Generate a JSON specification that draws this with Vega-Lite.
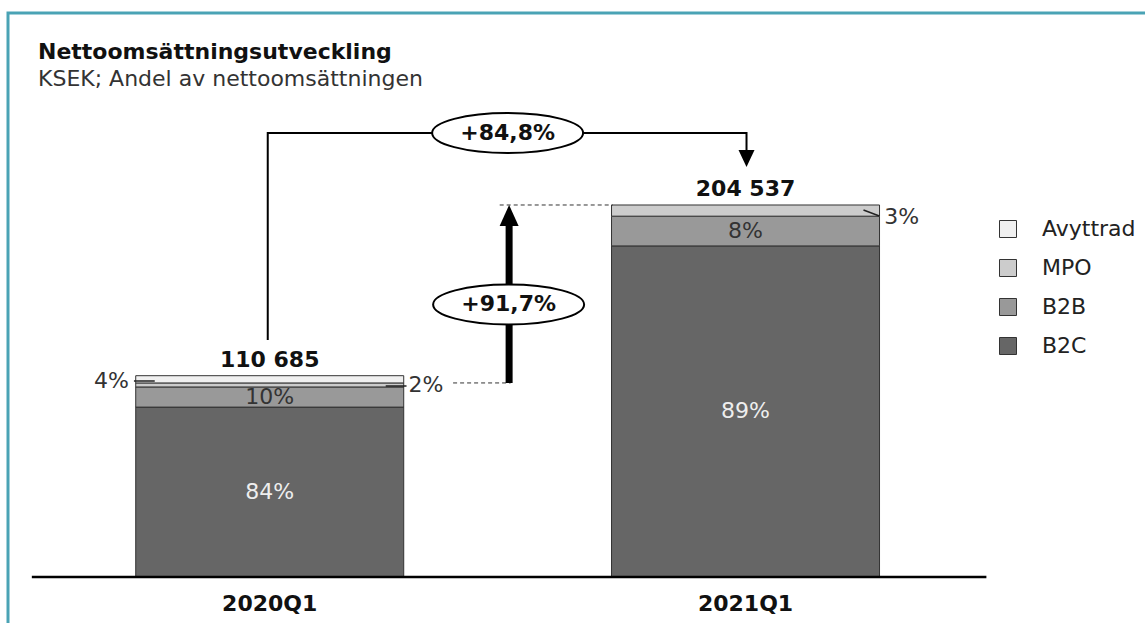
{
  "$schema": "https://vega.github.io/schema/vega-lite/v6.json",
  "width": 1141,
  "height": 614,
  "autosize": {"type": "none"},
  "padding": {"left": 8, "top": 13, "right": -4, "bottom": -4},
  "background": "white",
  "config": {
    "font": "DejaVu Sans",
    "view": {"stroke": "#4aa3b5", "strokeWidth": 3},
    "locale": {"number": {"decimal": ",", "thousands": " ", "grouping": [3], "currency": ["", " kr"]}}
  },
  "title": {
    "text": "Nettoomsättningsutveckling",
    "subtitle": "KSEK; Andel av nettoomsättningen",
    "anchor": "start",
    "frame": "group",
    "offset": 0,
    "dx": 30,
    "dy": 78,
    "fontSize": 22,
    "fontWeight": "bold",
    "color": "#111111",
    "subtitleFontSize": 22,
    "subtitleColor": "#333333",
    "subtitlePadding": 5
  },
  "datasets": {
    "bars": [
      {"period": "2020Q1", "idx": 1, "segment": "B2C", "stackOrder": 1, "value": 93417, "pct": "84%"},
      {"period": "2020Q1", "idx": 1, "segment": "B2B", "stackOrder": 2, "value": 11069, "pct": "10%"},
      {"period": "2020Q1", "idx": 1, "segment": "MPO", "stackOrder": 3, "value": 2214, "pct": "2%"},
      {"period": "2020Q1", "idx": 1, "segment": "Avyttrad", "stackOrder": 4, "value": 3985, "pct": "4%"},
      {"period": "2021Q1", "idx": 2, "segment": "B2C", "stackOrder": 1, "value": 182038, "pct": "89%"},
      {"period": "2021Q1", "idx": 2, "segment": "B2B", "stackOrder": 2, "value": 16363, "pct": "8%"},
      {"period": "2021Q1", "idx": 2, "segment": "MPO", "stackOrder": 3, "value": 6136, "pct": "3%"}
    ],
    "leaders": [
      {"x": 0.714583, "x2": 0.758333, "y": 107767, "y2": 107767},
      {"x": 1.24375, "x2": 1.2875, "y": 105018, "y2": 105018},
      {"x": 2.247917, "x2": 2.28125, "y": 201788, "y2": 198489}
    ],
    "dashes": [
      {"x": 1.48333, "x2": 1.72083, "y": 204537, "y2": 204537},
      {"x": 1.385417, "x2": 1.50625, "y": 106700, "y2": 106700}
    ],
    "connector": [
      {"step": 1, "x": 0.995833, "y": 130310},
      {"step": 2, "x": 0.995833, "y": 244125},
      {"step": 3, "x": 2.002083, "y": 244125},
      {"step": 4, "x": 2.002083, "y": 233678}
    ],
    "badges": [
      {"label": "+84,8%", "x": 1.5, "y": 244125},
      {"label": "+91,7%", "x": 1.502083, "y": 149829}
    ],
    "callouts": [
      {"label": "4%", "side": "left", "x": 0.704167, "y": 107767},
      {"label": "2%", "side": "right", "x": 1.291667, "y": 105567},
      {"label": "3%", "side": "right", "x": 2.291667, "y": 197939}
    ]
  },
  "layer": [
    {
      "data": {"name": "bars"},
      "mark": {"type": "bar", "orient": "vertical", "width": 268, "stroke": "#333333", "strokeWidth": 1},
      "encoding": {
        "x": {"field": "idx", "type": "quantitative", "scale": {"domain": [0.460417, 2.8375], "nice": false, "zero": false}, "axis": null},
        "y": {"field": "value", "type": "quantitative", "stack": "zero", "scale": {"domain": [-27492, 310104], "nice": false, "zero": false}, "axis": null},
        "color": {
          "field": "segment",
          "type": "nominal",
          "scale": {"domain": ["Avyttrad", "MPO", "B2B", "B2C"], "range": ["#f0f0f0", "#cccccc", "#999999", "#666666"]},
          "legend": {
            "orient": "none",
            "direction": "vertical",
            "legendX": 989,
            "legendY": 205,
            "title": null,
            "padding": 0,
            "symbolType": "square",
            "symbolSize": 289,
            "symbolStrokeColor": "#333333",
            "symbolStrokeWidth": 1,
            "symbolOpacity": 1,
            "labelFontSize": 22,
            "labelColor": "#222222",
            "labelOffset": 23,
            "rowPadding": 17
          }
        },
        "order": {"field": "stackOrder", "type": "quantitative"}
      }
    },
    {
      "data": {"name": "bars"},
      "transform": [{"filter": {"field": "segment", "oneOf": ["B2C", "B2B"]}}],
      "mark": {"type": "text", "fontSize": 22, "baseline": "middle", "align": "center"},
      "encoding": {
        "x": {"field": "idx", "type": "quantitative", "scale": {"domain": [0.460417, 2.8375], "nice": false, "zero": false}, "axis": null},
        "y": {"field": "value", "type": "quantitative", "stack": "zero", "bandPosition": 0.5, "scale": {"domain": [-27492, 310104], "nice": false, "zero": false}, "axis": null},
        "detail": {"field": "segment"},
        "order": {"field": "stackOrder", "type": "quantitative"},
        "text": {"field": "pct"},
        "color": {"condition": {"test": "datum.segment === 'B2C'", "value": "#eeeeee"}, "value": "#333333"}
      }
    },
    {
      "data": {"name": "bars"},
      "transform": [{"aggregate": [{"op": "sum", "field": "value", "as": "total"}], "groupby": ["period", "idx"]}],
      "layer": [
        {
          "mark": {"type": "text", "fontSize": 22, "fontWeight": "bold", "baseline": "alphabetic", "align": "center", "dy": -9, "color": "#111111"},
          "encoding": {
            "x": {"field": "idx", "type": "quantitative", "scale": {"domain": [0.460417, 2.8375], "nice": false, "zero": false}, "axis": null},
            "y": {"field": "total", "type": "quantitative", "scale": {"domain": [-27492, 310104], "nice": false, "zero": false}, "axis": null},
            "text": {"field": "total", "type": "quantitative", "format": ",d"}
          }
        },
        {
          "mark": {"type": "text", "fontSize": 22, "fontWeight": "bold", "baseline": "middle", "align": "center", "color": "#111111"},
          "encoding": {
            "x": {"field": "idx", "type": "quantitative", "scale": {"domain": [0.460417, 2.8375], "nice": false, "zero": false}, "axis": null},
            "y": {"datum": -14845, "type": "quantitative", "scale": {"domain": [-27492, 310104], "nice": false, "zero": false}, "axis": null},
            "text": {"field": "period"}
          }
        }
      ]
    },
    {
      "data": {"values": [{}]},
      "mark": {"type": "rule", "stroke": "#000000", "strokeWidth": 2.5},
      "encoding": {
        "x": {"datum": 0.5, "type": "quantitative", "scale": {"domain": [0.460417, 2.8375], "nice": false, "zero": false}, "axis": null},
        "x2": {"datum": 2.50625},
        "y": {"datum": 0, "type": "quantitative", "scale": {"domain": [-27492, 310104], "nice": false, "zero": false}, "axis": null}
      }
    },
    {
      "data": {"name": "leaders"},
      "mark": {"type": "rule", "stroke": "#222222", "strokeWidth": 1.5},
      "encoding": {
        "x": {"field": "x", "type": "quantitative", "scale": {"domain": [0.460417, 2.8375], "nice": false, "zero": false}, "axis": null},
        "x2": {"field": "x2"},
        "y": {"field": "y", "type": "quantitative", "scale": {"domain": [-27492, 310104], "nice": false, "zero": false}, "axis": null},
        "y2": {"field": "y2"}
      }
    },
    {
      "data": {"name": "dashes"},
      "mark": {"type": "rule", "stroke": "#333333", "strokeWidth": 1, "strokeDash": [4, 3]},
      "encoding": {
        "x": {"field": "x", "type": "quantitative", "scale": {"domain": [0.460417, 2.8375], "nice": false, "zero": false}, "axis": null},
        "x2": {"field": "x2"},
        "y": {"field": "y", "type": "quantitative", "scale": {"domain": [-27492, 310104], "nice": false, "zero": false}, "axis": null},
        "y2": {"field": "y2"}
      }
    },
    {
      "data": {"values": [{}]},
      "mark": {"type": "rule", "stroke": "#000000", "strokeWidth": 7},
      "encoding": {
        "x": {"datum": 1.503125, "type": "quantitative", "scale": {"domain": [0.460417, 2.8375], "nice": false, "zero": false}, "axis": null},
        "y": {"datum": 106700, "type": "quantitative", "scale": {"domain": [-27492, 310104], "nice": false, "zero": false}, "axis": null},
        "y2": {"datum": 194090}
      }
    },
    {
      "data": {"values": [{}]},
      "mark": {"type": "point", "shape": "M0,-1.1L1,1.1L-1,1.1Z", "size": 361, "filled": true, "fill": "#000000", "stroke": null, "opacity": 1},
      "encoding": {
        "x": {"datum": 1.503125, "type": "quantitative", "scale": {"domain": [0.460417, 2.8375], "nice": false, "zero": false}, "axis": null},
        "y": {"datum": 198764, "type": "quantitative", "scale": {"domain": [-27492, 310104], "nice": false, "zero": false}, "axis": null}
      }
    },
    {
      "data": {"name": "connector"},
      "mark": {"type": "line", "stroke": "#000000", "strokeWidth": 2},
      "encoding": {
        "x": {"field": "x", "type": "quantitative", "scale": {"domain": [0.460417, 2.8375], "nice": false, "zero": false}, "axis": null},
        "y": {"field": "y", "type": "quantitative", "scale": {"domain": [-27492, 310104], "nice": false, "zero": false}, "axis": null},
        "order": {"field": "step", "type": "quantitative"}
      }
    },
    {
      "data": {"values": [{}]},
      "mark": {"type": "point", "shape": "M0,1.06L1,-1.06L-1,-1.06Z", "size": 256, "filled": true, "fill": "#000000", "stroke": null, "opacity": 1},
      "encoding": {
        "x": {"datum": 2.002083, "type": "quantitative", "scale": {"domain": [0.460417, 2.8375], "nice": false, "zero": false}, "axis": null},
        "y": {"datum": 230104, "type": "quantitative", "scale": {"domain": [-27492, 310104], "nice": false, "zero": false}, "axis": null}
      }
    },
    {
      "data": {"name": "badges"},
      "mark": {"type": "point", "shape": "M-1,0C-1,-0.1464,-0.5523,-0.265,0,-0.265C0.5523,-0.265,1,-0.1464,1,0C1,0.1464,0.5523,0.265,0,0.265C-0.5523,0.265,-1,0.1464,-1,0Z", "size": 22800, "filled": true, "fill": "#ffffff", "stroke": "#000000", "strokeWidth": 2, "opacity": 1},
      "encoding": {
        "x": {"field": "x", "type": "quantitative", "scale": {"domain": [0.460417, 2.8375], "nice": false, "zero": false}, "axis": null},
        "y": {"field": "y", "type": "quantitative", "scale": {"domain": [-27492, 310104], "nice": false, "zero": false}, "axis": null}
      }
    },
    {
      "data": {"name": "badges"},
      "mark": {"type": "text", "fontSize": 22, "fontWeight": "bold", "baseline": "middle", "align": "center", "color": "#111111"},
      "encoding": {
        "x": {"field": "x", "type": "quantitative", "scale": {"domain": [0.460417, 2.8375], "nice": false, "zero": false}, "axis": null},
        "y": {"field": "y", "type": "quantitative", "scale": {"domain": [-27492, 310104], "nice": false, "zero": false}, "axis": null},
        "text": {"field": "label"}
      }
    },
    {
      "data": {"name": "callouts"},
      "transform": [{"filter": "datum.side === 'left'"}],
      "mark": {"type": "text", "fontSize": 22, "baseline": "middle", "align": "right", "color": "#333333"},
      "encoding": {
        "x": {"field": "x", "type": "quantitative", "scale": {"domain": [0.460417, 2.8375], "nice": false, "zero": false}, "axis": null},
        "y": {"field": "y", "type": "quantitative", "scale": {"domain": [-27492, 310104], "nice": false, "zero": false}, "axis": null},
        "text": {"field": "label"}
      }
    },
    {
      "data": {"name": "callouts"},
      "transform": [{"filter": "datum.side === 'right'"}],
      "mark": {"type": "text", "fontSize": 22, "baseline": "middle", "align": "left", "color": "#333333"},
      "encoding": {
        "x": {"field": "x", "type": "quantitative", "scale": {"domain": [0.460417, 2.8375], "nice": false, "zero": false}, "axis": null},
        "y": {"field": "y", "type": "quantitative", "scale": {"domain": [-27492, 310104], "nice": false, "zero": false}, "axis": null},
        "text": {"field": "label"}
      }
    }
  ]
}
